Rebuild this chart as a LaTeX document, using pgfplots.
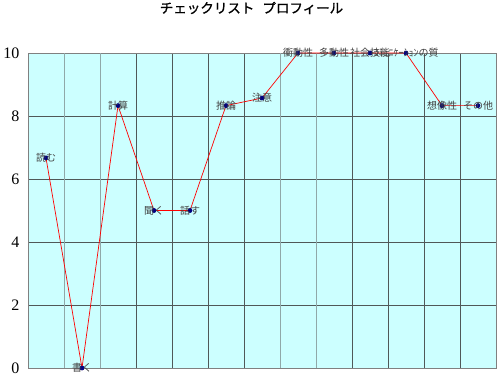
\documentclass[border=0pt]{standalone}
\usepackage{fontspec}
\usepackage{pgfplots}
\pgfplotsset{compat=1.18}
\setmainfont{Liberation Serif}
\newfontfamily\jp{Noto Sans CJK JP}
\newfontfamily\jpb[FakeBold=1.2]{Noto Sans CJK JP}
\definecolor{bgcyan}{HTML}{CCFFFF}
\definecolor{gridd}{HTML}{505858}
\definecolor{gridl}{HTML}{90A8A8}
\definecolor{mk}{HTML}{000080}
\pgfplotstableread{
x y label
1 6.67 読む
2 0 書く
3 8.33 計算
4 5 聞く
5 5 話す
6 8.33 推論
7 8.57 注意
8 10 衝動性
9 10 多動性
10 10 社会技能
11 10 ｺﾐｭﾆｹｰｼｮﾝの質
12 8.33 想像性
13 8.33 その他
}\profile
\begin{document}
\begin{tikzpicture}
\useasboundingbox (0,0) rectangle (500pt,378pt);
\begin{axis}[
  at={(28pt,10pt)}, anchor=south west,
  scale only axis, width=468pt, height=315pt,
  xmin=0.5, xmax=13.5, ymin=0, ymax=10,
  ytick={0,2,...,10},
  xtick={3.5,4.5,5.5,6.5,9.5,10.5,11.5,12.5},
  extra x ticks={1.5,2.5,7.5,8.5},
  extra x tick style={grid style={gridl, line width=0.8pt}, xticklabels={}},
  xticklabels={},
  major tick length=0pt,
  xmajorgrids, ymajorgrids,
  grid style={gridd, line width=0.6pt},
  axis background/.style={fill=bgcyan},
  axis line style={gray, line width=0.8pt},
  tick label style={font=\fontsize{16}{16}\selectfont},
  /pgf/number format/assume math mode=true,
  yticklabel style={xshift=-5pt},
  clip=false,
  title={\jpb\fontsize{13.5}{14}\selectfont チェックリスト\hspace{0.6em}プロフィール},
  title style={at={(0.4776,1)}, anchor=center, yshift=39pt},
]
\addplot[red, line width=0.7pt, mark=*, mark size=2pt,
  mark options={draw=mk, fill=mk},
  point meta=explicit symbolic, nodes near coords,
  every node near coord/.style={anchor=center, inner sep=0pt,
    font=\jp\fontsize{10}{10}\selectfont, text=black!75}]
  table[x=x, y=y, meta=label] {\profile};
\end{axis}
\end{tikzpicture}
\end{document}
